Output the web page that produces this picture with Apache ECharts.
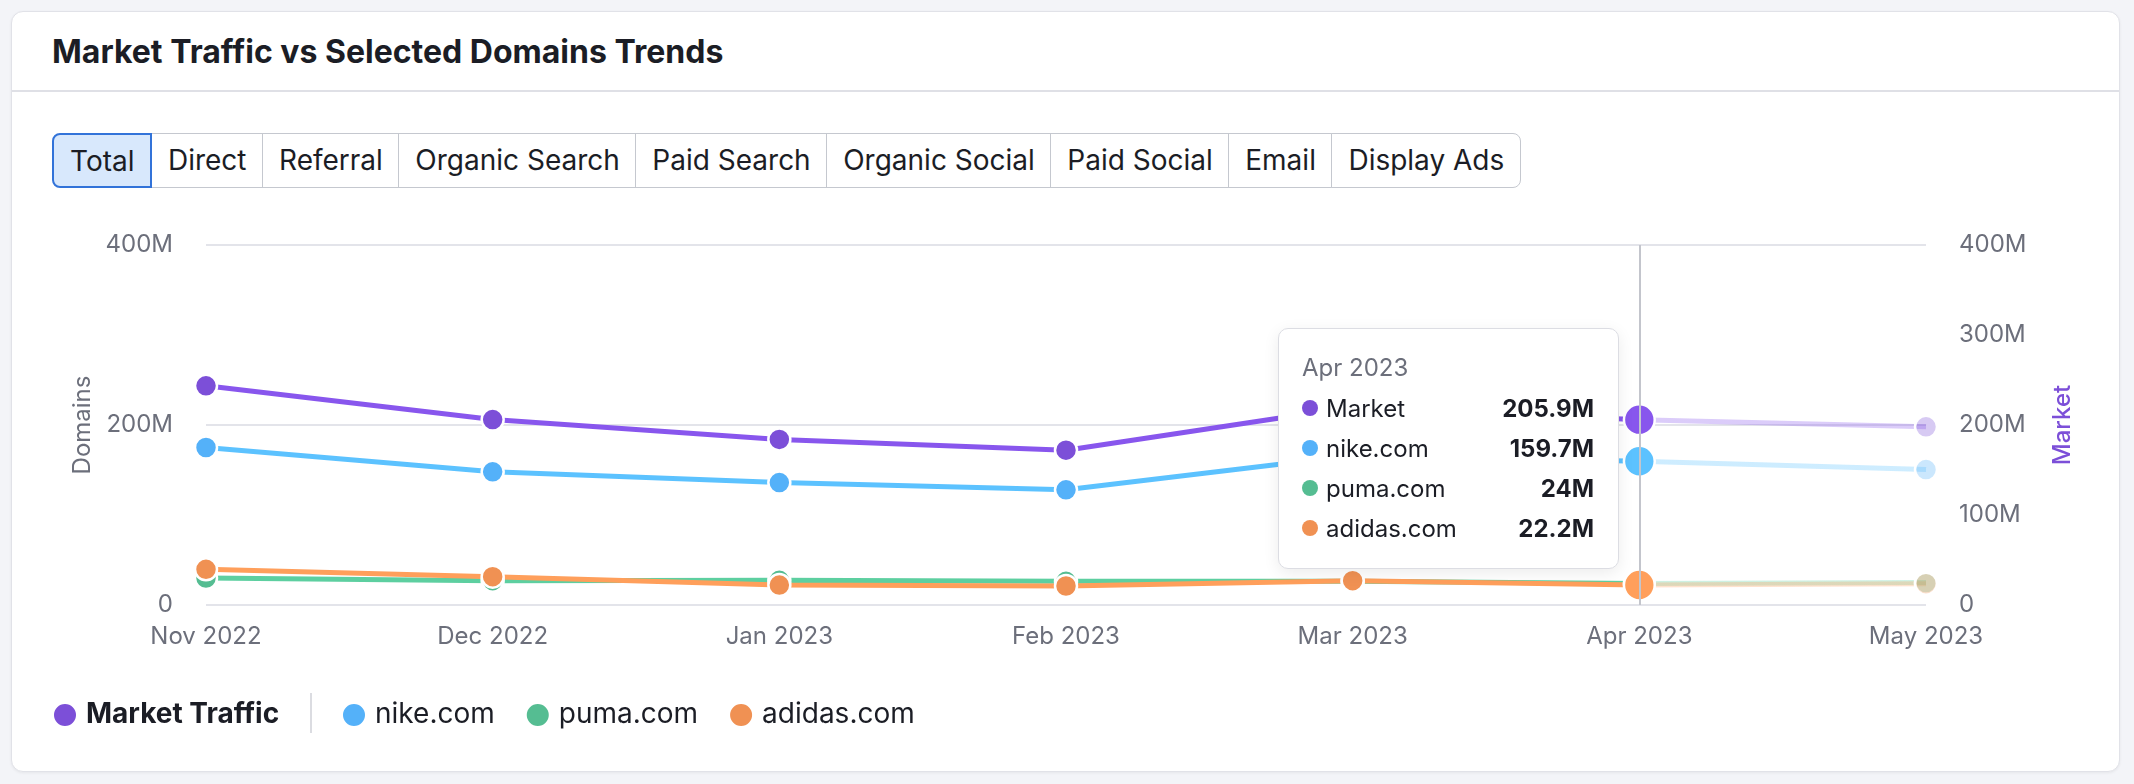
<!DOCTYPE html>
<html>
<head>
<meta charset="utf-8">
<title>Market Traffic vs Selected Domains Trends</title>
<script src="https://cdn.jsdelivr.net/npm/echarts@6/dist/echarts.min.js"></script>
<style>
  html, body { margin: 0; padding: 0; width: 2134px; height: 784px; overflow: hidden;
    background: #f3f4f8; font-family: Inter, "Noto Sans", sans-serif; color: #1b1d25; }
  .card { position: absolute; left: 11px; top: 11px; width: 2109px; height: 761px; box-sizing: border-box;
    background: #fff; border: 1px solid #e1e2e8; border-radius: 12px; box-shadow: 0 1px 3px rgba(0,0,0,.06); }
  .title { position: absolute; left: 52px; top: 33px; line-height: 38px; font-size: 32px; font-weight: 700; }
  .sep { position: absolute; left: 12px; top: 90px; width: 2107px; height: 2px; background: #dfe0e6; }
  .tabs { position: absolute; left: 52px; top: 133px; height: 55px; display: flex; }
  .tabs div { height: 55px; box-sizing: border-box; border: 1.5px solid #c5c8cf; margin-left: -1.5px;
    padding: 0 16px; line-height: 52px; font-size: 28px; background: #fff; }
  .tabs div:first-child { margin-left: 0; border: 2px solid #3273d9; background: #d8e8fc;
    border-radius: 8px 0 0 8px; position: relative; z-index: 1; }
  .tabs div:last-child { border-radius: 0 8px 8px 0; }
  #chart { position: absolute; left: 0; top: 0; width: 2134px; height: 784px; }
</style>
</head>
<body>
<div class="card"></div>
<div class="title">Market Traffic vs Selected Domains Trends</div>
<div class="sep"></div>
<div class="tabs" id="tabs"></div>
<div id="chart"></div>
<script>
// data (values in millions)
var months = ["Nov 2022", "Dec 2022", "Jan 2023", "Feb 2023", "Mar 2023", "Apr 2023", "May 2023"];
var market = [243.5, 206, 184, 172, 220, 205.9, 198];
var nike = [175, 148, 136, 128, 166, 159.7, 150.5];
var puma = [30, 27, 27.4, 26.3, 26.5, 24, 25];
var adidas = [39.6, 31.5, 22.2, 21.1, 27, 22.2, 23.7];

var seriesNames = ["Market Traffic", "nike.com", "puma.com", "adidas.com"];
var tipNames = ["Market", "nike.com", "puma.com", "adidas.com"];
var tabNames = ["Total", "Direct", "Referral", "Organic Search", "Paid Search", "Organic Social", "Paid Social", "Email", "Display Ads"];

var colors = ["#7c4fd8", "#54b1f9", "#55bd92", "#f09153"];
var lightColors = ["rgba(124,79,216,0.3)", "rgba(84,177,249,0.3)", "rgba(85,189,146,0.3)", "rgba(240,145,83,0.3)"];

document.getElementById("tabs").innerHTML = tabNames.map(function (t) {
  return "<div>" + t + "</div>";
}).join("");

function fmtM(v) {
  return v === 0 ? "0" : v + "M";
}

function makeLine(i, data, yIdx) {
  return {
    name: seriesNames[i],
    type: "line",
    yAxisIndex: yIdx,
    data: data,
    color: colors[i],
    symbol: "circle",
    symbolSize: 22,
    showAllSymbol: true,
    lineStyle: { width: 5 },
    itemStyle: { borderColor: "#fff", borderWidth: 2.5 },
    emphasis: { focus: "none", scale: 1.4, lineStyle: { width: 5 } }
  };
}

var chartDom = document.getElementById("chart");
var myChart = echarts.init(chartDom);
var option;

option = {
  animation: false,
  textStyle: { fontFamily: "Inter" },
  grid: { left: 206, right: 208, top: 245, bottom: 179, outerBoundsMode: "none" },
  tooltip: {
    trigger: "axis",
    triggerOn: "none",
    alwaysShowContent: true,
    transitionDuration: 0,
    position: [1278, 328],
    padding: [19, 24, 20, 23],
    backgroundColor: "#fff",
    borderColor: "#dcdde3",
    borderWidth: 1.5,
    extraCssText: "width:341px;box-sizing:border-box;border-radius:10px;box-shadow:0 4px 16px rgba(0,0,0,0.08);",
    axisPointer: { type: "line", lineStyle: { color: "#c3c5cc", width: 2, type: "solid" } },
    formatter: function (params) {
      var i = params[0].dataIndex;
      var html = '<div style="font-size:24px;line-height:40px;color:#6c6f7b">' + months[i] + "</div>";
      params.forEach(function (p) {
        var s = p.seriesIndex;
        html += '<div style="display:flex;align-items:center;height:40px;font-size:24px;color:#1b1d25">' +
          '<span style="display:inline-block;width:16px;height:16px;border-radius:50%;background:' + colors[s] + ';margin-right:8px"></span>' +
          '<span style="flex:1">' + tipNames[s] + "</span>" +
          '<span style="font-weight:700">' + fmtM(p.value) + "</span></div>";
      });
      return html;
    }
  },
  legend: [
    {
      data: ["Market Traffic"],
      left: 47, top: 696,
      icon: "circle", itemWidth: 24, itemHeight: 24,
      selectedMode: false,
      textStyle: { fontSize: 28, fontWeight: "bold", color: "#1b1d25", padding: [0, 0, 0, 4] }
    },
    {
      data: ["nike.com", "puma.com", "adidas.com"],
      left: 336, top: 696,
      icon: "circle", itemWidth: 24, itemHeight: 24, itemGap: 30,
      selectedMode: false,
      textStyle: { fontSize: 28, color: "#1b1d25", padding: [0, 0, 0, 4] }
    }
  ],
  graphic: [
    { type: "line", shape: { x1: 311, y1: 693, x2: 311, y2: 733 }, style: { stroke: "#cfd1d7", lineWidth: 1.5 } }
  ],
  visualMap: colors.map(function (c, i) {
    return {
      show: false, type: "piecewise", seriesIndex: i, dimension: 0,
      pieces: [{ gte: 0, lte: 5, color: c }, { gt: 5, lte: 6, color: lightColors[i] }],
      outOfRange: { color: c }
    };
  }),
  xAxis: {
    type: "category",
    boundaryGap: false,
    data: months,
    axisLine: { show: false },
    axisTick: { show: false },
    axisLabel: { color: "#6c6f7b", fontSize: 24, margin: 20 }
  },
  yAxis: [
    {
      type: "value", min: 0, max: 400, interval: 200,
      name: "Domains", nameLocation: "middle", nameRotate: 90, nameGap: 104,
      nameTextStyle: { color: "#6c6f7b", fontSize: 24 },
      axisLine: { show: false }, axisTick: { show: false },
      axisLabel: { color: "#6c6f7b", fontSize: 24, margin: 33, formatter: fmtM },
      splitLine: { lineStyle: { color: "#e3e4ea", width: 2 } }
    },
    {
      type: "value", min: 0, max: 400, interval: 100, position: "right",
      name: "Market", nameLocation: "middle", nameRotate: 90, nameGap: 125,
      nameTextStyle: { color: "#7c4fd8", fontSize: 24, fontWeight: 500 },
      axisLine: { show: false }, axisTick: { show: false },
      axisLabel: { color: "#6c6f7b", fontSize: 24, margin: 33, formatter: fmtM },
      splitLine: { show: false }
    }
  ],
  series: [
    makeLine(0, market, 1),
    makeLine(1, nike, 0),
    makeLine(2, puma, 0),
    makeLine(3, adidas, 0)
  ]
};

option && myChart.setOption(option);
myChart.dispatchAction({ type: "showTip", seriesIndex: 0, dataIndex: 5 });
setTimeout(function () {
  myChart.dispatchAction({ type: "showTip", seriesIndex: 0, dataIndex: 5 });
}, 50);
</script>
</body>
</html>
